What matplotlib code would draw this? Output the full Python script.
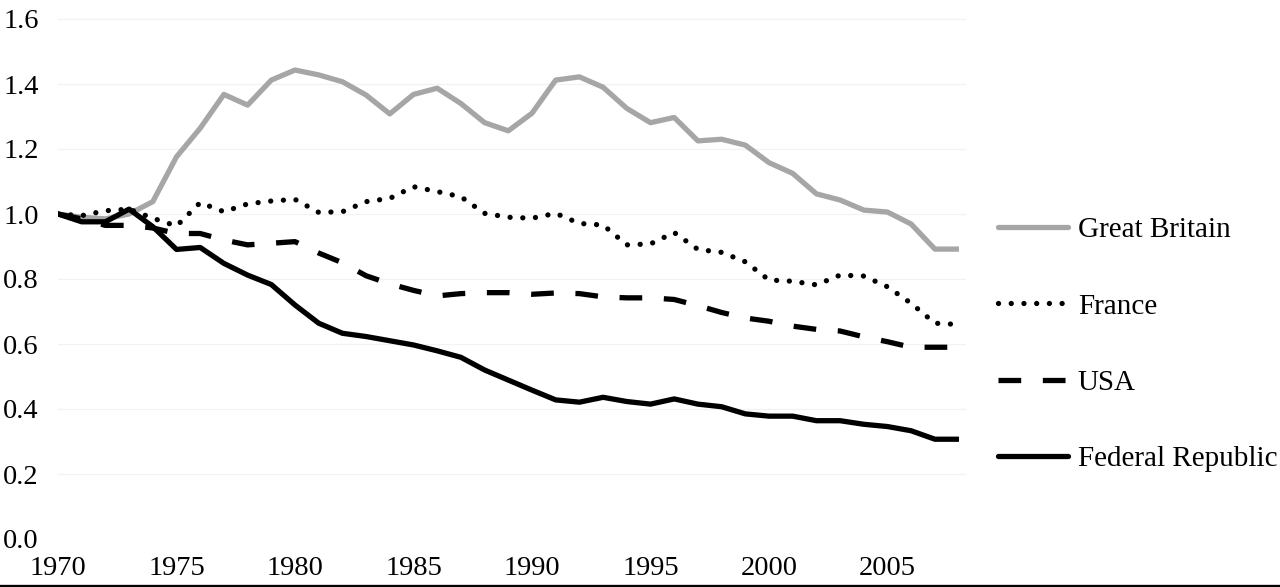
import matplotlib
matplotlib.use("Agg")
import matplotlib.pyplot as plt
from matplotlib.lines import Line2D

years = list(range(1970, 2009))

great_britain = [1.00, 0.99, 0.985, 1.00, 1.038, 1.176, 1.264, 1.368, 1.335, 1.412,
                 1.443, 1.428, 1.407, 1.366, 1.308, 1.368, 1.387, 1.340, 1.281, 1.256,
                 1.310, 1.412, 1.422, 1.390, 1.325, 1.281, 1.297, 1.225, 1.230, 1.212,
                 1.158, 1.125, 1.062, 1.043, 1.012, 1.006, 0.969, 0.892, 0.892]

france = [1.00, 0.995, 1.01, 1.015, 0.987, 0.963, 1.035, 1.007, 1.031, 1.040,
          1.045, 1.005, 1.007, 1.038, 1.048, 1.084, 1.069, 1.053, 1.002, 0.990,
          0.987, 1.002, 0.971, 0.966, 0.905, 0.908, 0.943, 0.891, 0.882, 0.853,
          0.797, 0.793, 0.782, 0.812, 0.809, 0.776, 0.725, 0.664, 0.660]

usa = [1.00, 0.985, 0.965, 0.965, 0.957, 0.940, 0.940, 0.920, 0.905, 0.910,
       0.915, 0.880, 0.850, 0.810, 0.785, 0.765, 0.748, 0.755, 0.758, 0.758,
       0.753, 0.757, 0.755, 0.745, 0.742, 0.742, 0.737, 0.718, 0.697, 0.680,
       0.670, 0.655, 0.645, 0.640, 0.622, 0.607, 0.590, 0.590, 0.590]

federal_republic = [1.00, 0.976, 0.976, 1.015, 0.961, 0.891, 0.897, 0.848, 0.812, 0.783,
                    0.720, 0.664, 0.633, 0.623, 0.610, 0.597, 0.579, 0.559, 0.520, 0.489,
                    0.458, 0.428, 0.421, 0.436, 0.423, 0.415, 0.431, 0.415, 0.407, 0.385,
                    0.378, 0.378, 0.364, 0.364, 0.353, 0.346, 0.333, 0.307, 0.307]

labels = ["Great Britain", "France", "USA", "Federal Republic"]
yticks = [0.0, 0.2, 0.4, 0.6, 0.8, 1.0, 1.2, 1.4, 1.6]
xticks = [1970, 1975, 1980, 1985, 1990, 1995, 2000, 2005]

plt.rcParams['font.family'] = ['Liberation Serif', 'DejaVu Serif']

W, H = 1280, 587
fig = plt.figure(figsize=(W / 100, H / 100), dpi=100)
left = 58 / W
bottom = (H - 539) / H
top = (H - 19) / H
right = 958.6 / W
ax = fig.add_axes([left, bottom, right - left, top - bottom])

lw = 3.8
ax.plot(years, great_britain, color='#a6a6a6', lw=lw, solid_capstyle='round',
        solid_joinstyle='round', label=labels[0])
ax.plot(years, france, color='black', lw=lw, linestyle=(0, (0.01, 2.4)),
        dash_capstyle='round', label=labels[1])
ax.plot(years, usa, color='black', lw=lw, linestyle=(0, (4.3, 4.1)),
        dash_capstyle='butt', label=labels[2])
ax.plot(years, federal_republic, color='black', lw=lw, solid_capstyle='round',
        solid_joinstyle='round', label=labels[3])

ax.set_xlim(1970, 2008)
ax.set_ylim(0, 1.6)
ax.set_yticks(yticks)
ax.set_yticklabels([f"{v:.1f}" for v in yticks])
ax.set_xticks(xticks)
ax.set_xticklabels([str(v) for v in xticks])
ax.tick_params(axis='both', length=0, labelsize=20.5)
ax.tick_params(axis='y', pad=14)
ax.tick_params(axis='x', pad=12)
for s in ax.spines.values():
    s.set_visible(False)
for v in yticks[1:]:
    ax.axhline(v, xmin=0, xmax=1.007, color='#f2f2f2', lw=0.9, zorder=0, clip_on=False)

leg = ax.legend(loc='center left', bbox_to_anchor=(998 / W, (H - 344.5) / H),
                bbox_transform=fig.transFigure, frameon=False, fontsize=21,
                handlelength=2.4, handletextpad=0.34, labelspacing=1.71,
                borderpad=0, borderaxespad=0)

fig.add_artist(Line2D([0, 1], [1.5 / H, 1.5 / H], transform=fig.transFigure,
                      color='black', lw=2.4))

fig.savefig("out.png", dpi=100)
